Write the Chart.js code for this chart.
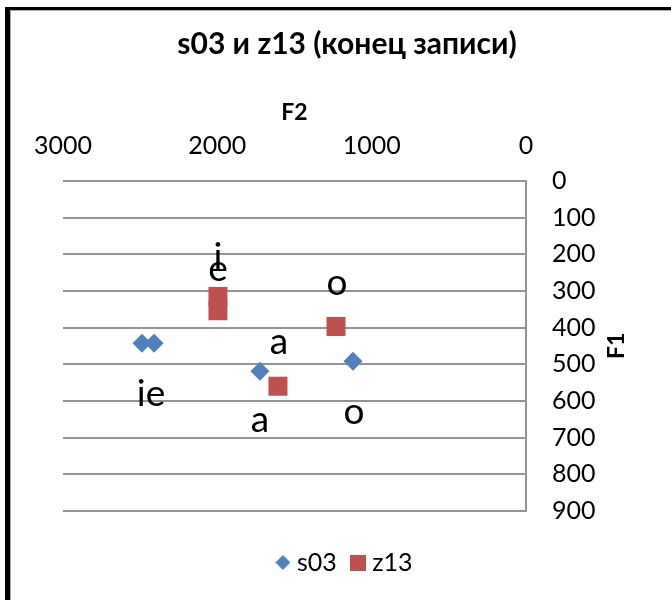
<!DOCTYPE html>
<html>
<head>
<meta charset="utf-8">
<script src="https://cdn.jsdelivr.net/npm/chart.js@4/dist/chart.umd.min.js"></script>
<style>
  html, body { margin: 0; padding: 0; background: #fff; }
  #wrap { position: relative; width: 671px; height: 600px; }
</style>
</head>
<body>
<div id="wrap"><canvas id="c" width="671" height="600"></canvas></div>
<script>
// ---- data ----
const seriesNames = ['s03', 'z13'];
const s03F2 = [2488, 2410, 1724, 1121];
const s03F1 = [443, 443, 519, 492];
const z13F2 = [1996, 1996, 1607, 1231];
const z13F1 = [315, 354, 560, 397];
const vowelTexts = ['i', 'e', 'o', 'a', 'ie', 'a', 'o'];
const vowelF2 = [1996, 1996, 1225, 1600, 2430, 1724, 1115];
const vowelF1 = [240, 272, 310, 473, 614, 685, 663];
const f2Ticks = [0, 1000, 2000, 3000];
const f1Ticks = [0, 100, 200, 300, 400, 500, 600, 700, 800, 900];

const FONT = 'Lato, "Liberation Sans", sans-serif';
const BLUE = '#4F81BD';
const RED = '#C0504D';

function markerCanvas(kind, color, size) {
  const c = document.createElement('canvas');
  c.width = size; c.height = size;
  const x = c.getContext('2d');
  x.fillStyle = color;
  if (kind === 'diamond') {
    x.beginPath();
    x.moveTo(size / 2, 0); x.lineTo(size, size / 2);
    x.lineTo(size / 2, size); x.lineTo(0, size / 2);
    x.closePath(); x.fill();
  } else {
    x.fillRect(0, 0, size, size);
  }
  return c;
}
const legendMarkers = [markerCanvas('diamond', BLUE, 15), markerCanvas('square', RED, 16)];

const frame = {
  id: 'frame',
  beforeDraw(chart) {
    const ctx = chart.ctx;
    ctx.save();
    ctx.fillStyle = '#fff';
    ctx.fillRect(0, 0, chart.width, chart.height);
    ctx.fillStyle = '#000';
    ctx.fillRect(5, 7, chart.width - 5, 3);
    ctx.fillRect(5, 7, 5, chart.height - 7);
    ctx.fillStyle = '#aaa';
    ctx.fillRect(10, 10, chart.width - 10, 1);
    ctx.fillRect(10, 10, 1, chart.height - 10);
    ctx.restore();
  }
};

const extras = {
  id: 'extras',
  afterDatasetsDraw(chart) {
    const ctx = chart.ctx;
    const xs = chart.scales.x, ys = chart.scales.y;
    ctx.save();
    ctx.fillStyle = '#000';
    ctx.font = '37px ' + FONT;
    ctx.textAlign = 'center';
    ctx.textBaseline = 'alphabetic';
    for (let i = 0; i < vowelTexts.length; i++) {
      ctx.fillText(vowelTexts[i], xs.getPixelForValue(vowelF2[i]), ys.getPixelForValue(vowelF1[i]));
    }
    // F1 axis title, reading bottom to top
    ctx.font = 'bold 23px ' + FONT;
    ctx.textBaseline = 'middle';
    ctx.translate(ys.right - 14, (ys.top + ys.bottom) / 2);
    ctx.rotate(-Math.PI / 2);
    ctx.fillText('F1', 0, 0);
    ctx.restore();
  }
};

const plainNumber = v => String(v);

new Chart(document.getElementById('c'), {
  type: 'scatter',
  data: {
    datasets: [
      {
        label: seriesNames[0],
        data: s03F2.map((v, i) => ({ x: v, y: s03F1[i] })),
        pointStyle: 'rectRot',
        pointRadius: 9.5,
        pointHoverRadius: 9.5,
        backgroundColor: BLUE,
        borderColor: BLUE,
        borderWidth: 0
      },
      {
        label: seriesNames[1],
        data: z13F2.map((v, i) => ({ x: v, y: z13F1[i] })),
        pointStyle: 'rect',
        pointRadius: 13.4,
        pointHoverRadius: 13.4,
        backgroundColor: RED,
        borderColor: RED,
        borderWidth: 0
      }
    ]
  },
  options: {
    responsive: false,
    animation: false,
    events: [],
    layout: { padding: { left: 63, right: 40, top: 0, bottom: 15 } },
    plugins: {
      tooltip: { enabled: false },
      title: {
        display: true,
        text: 's03 и z13 (конец записи)',
        color: '#000',
        font: { family: FONT, size: 30, weight: 'bold' },
        padding: { top: 26, bottom: 0 }
      },
      legend: {
        position: 'bottom',
        title: { display: true, text: '', font: { size: 1 }, padding: { top: 0, bottom: 18 } },
        labels: {
          color: '#000',
          font: { family: FONT, size: 25 },
          usePointStyle: true,
          boxWidth: 3,
          pointStyleWidth: 3,
          boxHeight: 16,
          padding: 20,
          generateLabels(chart) {
            return chart.data.datasets.map((ds, i) => ({
              text: ds.label,
              fillStyle: ds.backgroundColor,
              strokeStyle: ds.backgroundColor,
              fontColor: '#000',
              lineWidth: 0,
              pointStyle: legendMarkers[i],
              hidden: false,
              datasetIndex: i
            }));
          }
        }
      }
    },
    scales: {
      x: {
        type: 'linear',
        position: 'top',
        reverse: true,
        min: 0,
        max: 3000,
        afterBuildTicks(scale) { scale.ticks = f2Ticks.map(v => ({ value: v })); },
        afterFit(scale) { scale.height = 119; },
        grid: { display: false, drawTicks: false },
        border: { display: false },
        ticks: { color: '#000', font: { family: FONT, size: 25 }, padding: 20, maxRotation: 0, callback: plainNumber },
        title: {
          display: true, text: 'F2', color: '#000',
          font: { family: FONT, size: 23, weight: 'bold' },
          padding: { top: 37, bottom: 0 }
        }
      },
      y: {
        type: 'linear',
        position: 'right',
        reverse: true,
        min: 0,
        max: 900,
        afterBuildTicks(scale) { scale.ticks = f1Ticks.map(v => ({ value: v })); },
        afterFit(scale) { scale.width = 105; },
        grid: { color: '#939393', lineWidth: 2, drawTicks: false },
        border: { display: true, color: '#939393', width: 2 },
        ticks: { color: '#000', font: { family: FONT, size: 25 }, padding: 26, callback: plainNumber }
      }
    }
  },
  plugins: [frame, extras]
});
</script>
</body>
</html>
